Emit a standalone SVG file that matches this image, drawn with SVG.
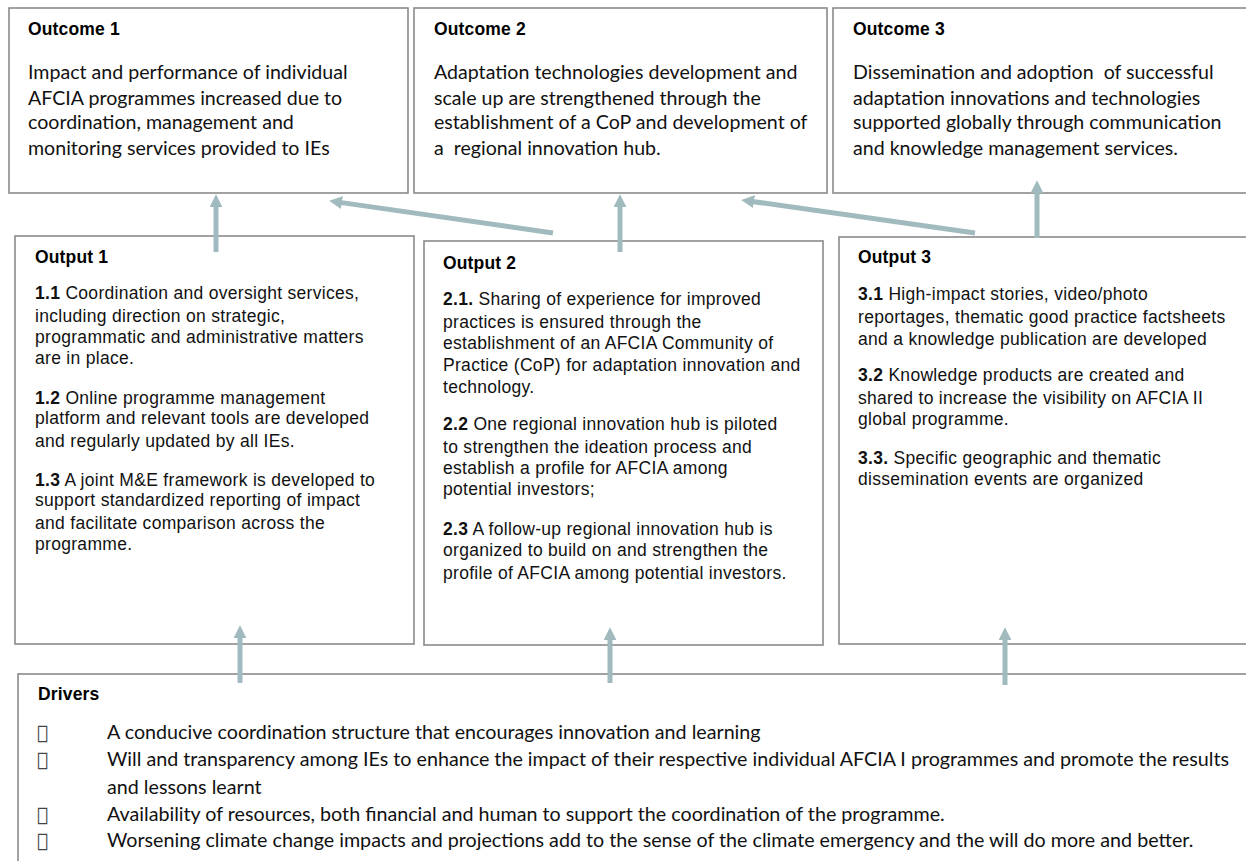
<svg xmlns="http://www.w3.org/2000/svg" width="1246" height="861" viewBox="0 0 1246 861">
<style>
.box{fill:#fff;stroke:#8a8a8a;stroke-width:1.6}
.h{font-family:"Liberation Sans",Arial,sans-serif;font-weight:bold;font-size:17.5px;letter-spacing:0.15px;fill:#000}
.oc{font-family:Lato,"Open Sans",sans-serif;font-size:19.6px;fill:#111;white-space:pre}
.op{font-family:"Liberation Sans",Arial,sans-serif;font-size:17.5px;letter-spacing:0.3px;fill:#111}
.op tspan.b{font-weight:bold}
.dr{font-family:Lato,"Open Sans",sans-serif;font-size:19.7px;fill:#111}
.bul{font-family:"DejaVu Sans",sans-serif;font-size:19px;fill:#444}
.arr{stroke:#a0babd;stroke-width:5;fill:none;marker-end:url(#ah)}
</style>
<defs>
<marker id="ah" viewBox="0 0 12 12" refX="2" refY="6" markerWidth="13" markerHeight="13" markerUnits="userSpaceOnUse" orient="auto">
<path d="M0,0 L12,6 L0,12 z" fill="#a0babd"/>
</marker>
</defs>
<rect width="1246" height="861" fill="#fff"/>

<g id="outcome1">
<rect class="box" x="9" y="8" width="399" height="185"/>
<text class="h" x="28" y="35">Outcome 1</text>
<text class="oc" x="28" y="79">Impact and performance of individual</text>
<text class="oc" x="28" y="105">AFCIA programmes increased due to</text>
<text class="oc" x="28" y="129">coordination, management and</text>
<text class="oc" x="28" y="155">monitoring services provided to IEs</text>
</g>

<g id="outcome2">
<rect class="box" x="414" y="8" width="413" height="185"/>
<text class="h" x="434" y="35">Outcome 2</text>
<text class="oc" x="434" y="79">Adaptation technologies development and</text>
<text class="oc" x="434" y="105">scale up are strengthened through the</text>
<text class="oc" x="434" y="129">establishment of a CoP and development of</text>
<text class="oc" x="434" y="155" xml:space="preserve">a  regional innovation hub.</text>
</g>

<g id="outcome3">
<rect class="box" x="833" y="8" width="420" height="185"/>
<text class="h" x="853" y="35">Outcome 3</text>
<text class="oc" x="853" y="79" xml:space="preserve">Dissemination and adoption  of successful</text>
<text class="oc" x="853" y="105">adaptation innovations and technologies</text>
<text class="oc" x="853" y="129">supported globally through communication</text>
<text class="oc" x="853" y="155">and knowledge management services.</text>
</g>

<g id="output1">
<rect class="box" x="15" y="236" width="399" height="408"/>
<text class="h" x="35" y="263">Output 1</text>
<text class="op" x="35" y="299"><tspan class="b">1.1</tspan> Coordination and oversight services,</text>
<text class="op" x="35" y="322">including direction on strategic,</text>
<text class="op" x="35" y="343">programmatic and administrative matters</text>
<text class="op" x="35" y="364">are in place.</text>
<text class="op" x="35" y="404"><tspan class="b">1.2</tspan> Online programme management</text>
<text class="op" x="35" y="424">platform and relevant tools are developed</text>
<text class="op" x="35" y="447">and regularly updated by all IEs.</text>
<text class="op" x="35" y="486"><tspan class="b">1.3</tspan> A joint M&amp;E framework is developed to</text>
<text class="op" x="35" y="506">support standardized reporting of impact</text>
<text class="op" x="35" y="529">and facilitate comparison across the</text>
<text class="op" x="35" y="550">programme.</text>
</g>

<g id="output2">
<rect class="box" x="424" y="241" width="399" height="404"/>
<text class="h" x="443" y="269">Output 2</text>
<text class="op" x="443" y="305"><tspan class="b">2.1.</tspan> Sharing of experience for improved</text>
<text class="op" x="443" y="328">practices is ensured through the</text>
<text class="op" x="443" y="349">establishment of an AFCIA Community of</text>
<text class="op" x="443" y="371">Practice (CoP) for adaptation innovation and</text>
<text class="op" x="443" y="393">technology.</text>
<text class="op" x="443" y="430"><tspan class="b">2.2</tspan> One regional innovation hub is piloted</text>
<text class="op" x="443" y="453">to strengthen the ideation process and</text>
<text class="op" x="443" y="474">establish a profile for AFCIA among</text>
<text class="op" x="443" y="495">potential investors;</text>
<text class="op" x="443" y="535"><tspan class="b">2.3</tspan> A follow-up regional innovation hub is</text>
<text class="op" x="443" y="556">organized to build on and strengthen the</text>
<text class="op" x="443" y="579">profile of AFCIA among potential investors.</text>
</g>

<g id="output3">
<rect class="box" x="839" y="237" width="414" height="407"/>
<text class="h" x="858" y="263">Output 3</text>
<text class="op" x="858" y="300"><tspan class="b">3.1</tspan> High-impact stories, video/photo</text>
<text class="op" x="858" y="323">reportages, thematic good practice factsheets</text>
<text class="op" x="858" y="345">and a knowledge publication are developed</text>
<text class="op" x="858" y="381"><tspan class="b">3.2</tspan> Knowledge products are created and</text>
<text class="op" x="858" y="404">shared to increase the visibility on AFCIA II</text>
<text class="op" x="858" y="425">global programme.</text>
<text class="op" x="858" y="464"><tspan class="b">3.3.</tspan> Specific geographic and thematic</text>
<text class="op" x="858" y="485">dissemination events are organized</text>
</g>

<g id="drivers">
<rect class="box" x="18" y="674" width="1240" height="200"/>
<text class="h" x="38" y="700">Drivers</text>
<text class="bul" x="37" y="739">&#xF0B7;</text>
<text class="bul" x="37" y="766">&#xF0B7;</text>
<text class="bul" x="37" y="821">&#xF0B7;</text>
<text class="bul" x="37" y="847">&#xF0B7;</text>
<text class="dr" x="107" y="739">A conducive coordination structure that encourages innovation and learning</text>
<text class="dr" x="107" y="766">Will and transparency among IEs to enhance the impact of their respective individual AFCIA I programmes and promote the results</text>
<text class="dr" x="107" y="794">and lessons learnt</text>
<text class="dr" x="107" y="821">Availability of resources, both financial and human to support the coordination of the programme.</text>
<text class="dr" x="107" y="847">Worsening climate change impacts and projections add to the sense of the climate emergency and the will do more and better.</text>
</g>

<g id="connectors">
<line class="arr" x1="216" y1="252" x2="216" y2="205"/>
<line class="arr" x1="620" y1="252" x2="620" y2="205"/>
<line class="arr" x1="1037" y1="238" x2="1037" y2="191"/>
<line class="arr" x1="553" y1="233" x2="339.9" y2="202.4"/>
<line class="arr" x1="975" y1="233" x2="751.9" y2="201.4"/>
<line class="arr" x1="240" y1="683" x2="240" y2="636"/>
<line class="arr" x1="610" y1="683" x2="610" y2="638"/>
<line class="arr" x1="1005" y1="685" x2="1005" y2="638"/>
</g>
</svg>
